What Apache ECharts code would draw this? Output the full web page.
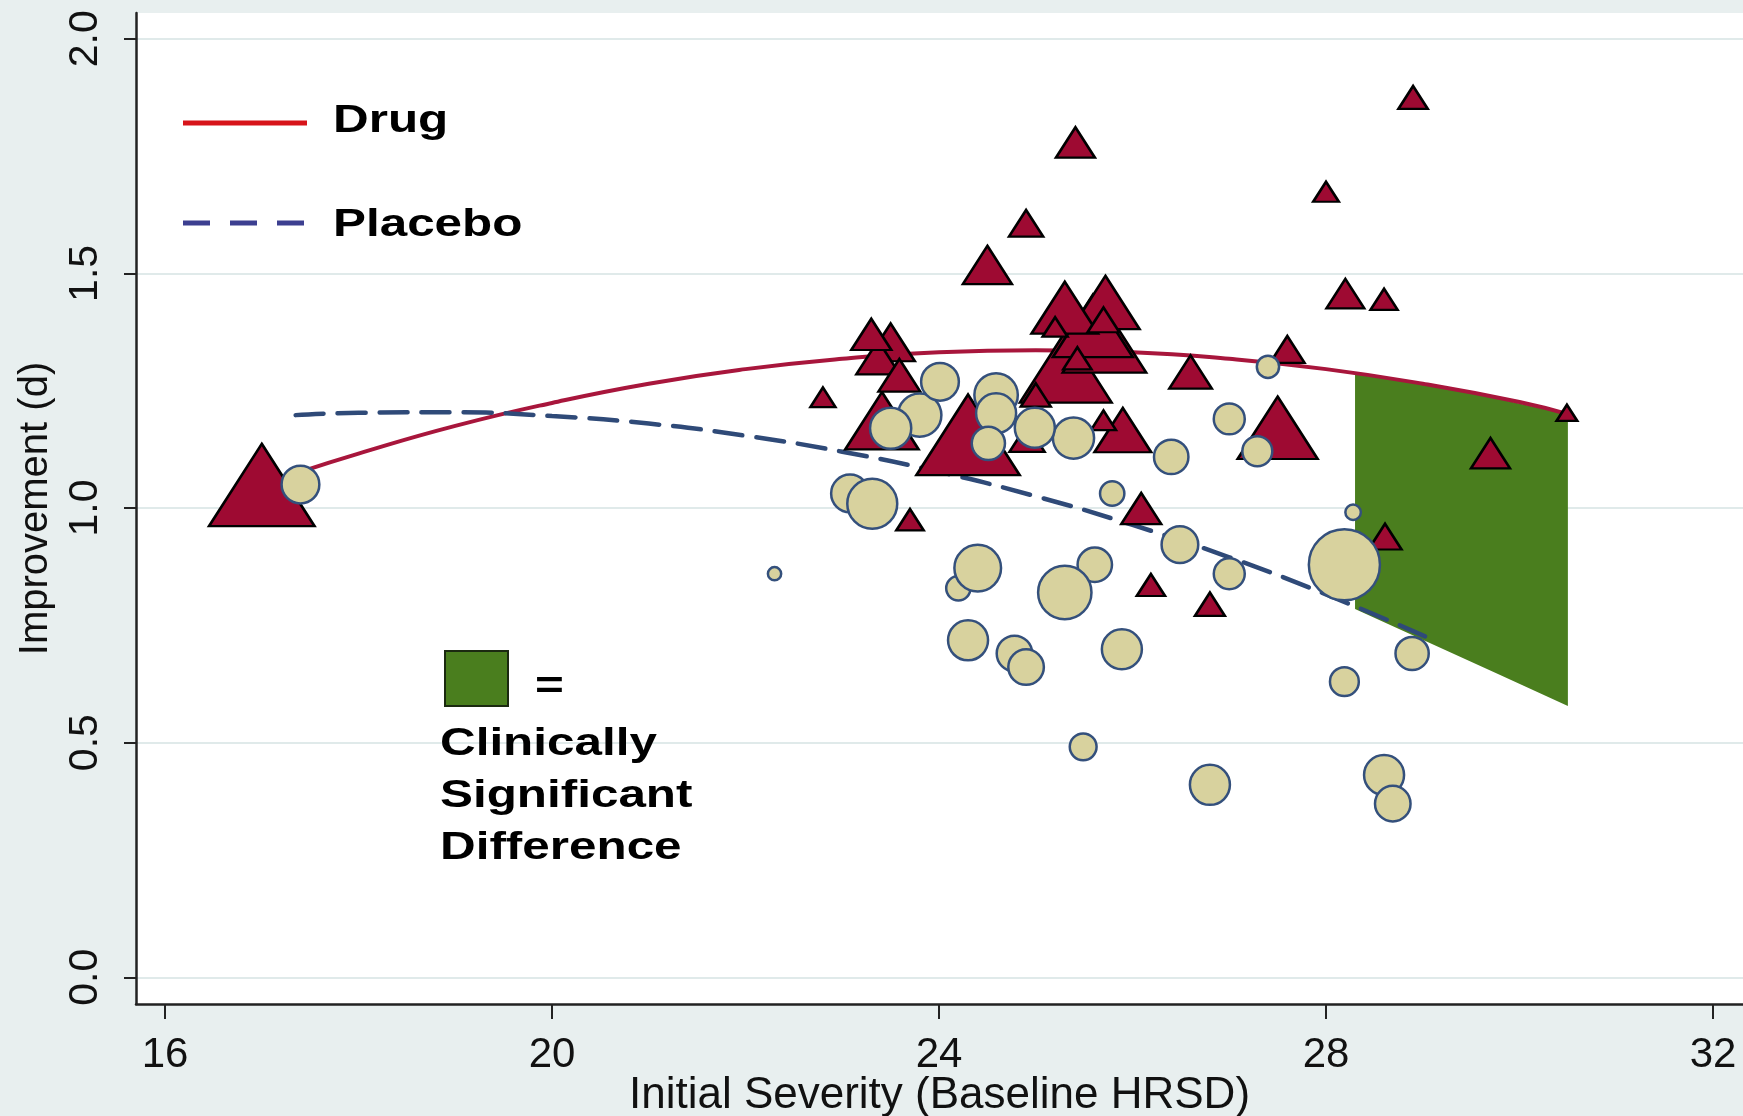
<!DOCTYPE html>
<html>
<head>
<meta charset="utf-8">
<script src="https://cdn.jsdelivr.net/npm/echarts@6/dist/echarts.min.js"></script>
<style>
html,body{margin:0;padding:0;background:#e8efef;}
#chart{width:1743px;height:1116px;}
</style>
</head>
<body>
<div id="chart"></div>
<script>
// ---- axis ticks ----
const xTicks = [16, 20, 24, 28, 32];
const yTicks = [0, 0.5, 1.0, 1.5, 2.0];

// ---- Drug trials (triangles): baseline severity, improvement, relative sample size ----
const drugX = [17.00, 24.30, 25.31, 25.71, 25.59, 27.50, 23.41, 25.72, 25.30, 25.90,
               24.50, 23.50, 23.37, 26.60, 23.59, 23.30, 26.09, 25.41, 29.70, 28.20,
               24.91, 27.60, 24.90, 28.61, 25.70, 25.00, 26.80, 28.90, 25.43, 26.19,
               23.70, 28.60, 28.00, 22.80, 25.20, 25.70, 30.49];
const drugY = [1.049, 1.156, 1.301, 1.358, 1.388, 1.171, 1.186, 1.438, 1.427, 1.166,
               1.518, 1.353, 1.321, 1.290, 1.283, 1.370, 0.999, 1.779, 1.117, 1.457,
               1.149, 1.338, 1.607, 0.939, 1.401, 1.241, 0.795, 1.875, 1.319, 0.836,
               0.975, 1.445, 1.674, 1.236, 1.386, 1.187, 1.203];
const drugN = [697, 668, 526, 435, 400, 400, 337, 292, 278, 201,
               150, 146, 118, 113, 109, 100, 100, 95, 95, 89,
               77, 74, 73, 68, 63, 56, 56, 54, 50, 50,
               47, 46, 41, 39, 39, 39, 27];

// ---- Placebo trials (circles) ----
const placeboX = [28.19, 25.61, 23.08, 25.30, 23.31, 24.20, 24.40, 23.80, 24.59, 25.39,
                  23.50, 26.80, 28.60, 25.89, 24.30, 24.99, 24.59, 17.40, 24.01, 26.49,
                  28.69, 24.78, 24.90, 26.40, 28.89, 24.51, 27.00, 27.00, 27.29, 28.19,
                  25.49, 25.79, 27.40, 28.28, 22.30];
const placeboY = [0.879, 0.879, 1.031, 0.820, 1.009, 0.829, 0.872, 1.198, 1.241, 1.149,
                  1.170, 0.410, 0.431, 0.699, 0.718, 1.171, 1.202, 1.050, 1.269, 0.922,
                  0.370, 0.690, 0.661, 1.109, 0.690, 1.138, 0.860, 1.190, 1.121, 0.630,
                  0.491, 1.031, 1.301, 0.991, 0.860];
const placeboN = [316, 74, 89, 178, 156, 37, 136, 118, 118, 106,
                  106, 100, 100, 100, 100, 100, 100, 89, 89, 84,
                  79, 79, 79, 74, 69, 69, 60, 60, 56, 52,
                  45, 37, 31, 15, 11];

// ---- fitted curves ----
const drugCurveX = [17.4, 18, 19, 20, 21, 22, 23, 24, 25, 26, 27, 28, 29, 30, 30.5];
const drugCurveY = [1.077, 1.116, 1.175, 1.224, 1.265, 1.296, 1.318, 1.332, 1.336, 1.332, 1.318, 1.296, 1.265, 1.226, 1.200];
const placeboCurveX = [17.35, 18, 19, 20, 21, 22, 23, 24, 25, 26, 27, 28, 29.03];
const placeboCurveY = [1.198, 1.203, 1.204, 1.196, 1.180, 1.154, 1.120, 1.077, 1.025, 0.964, 0.895, 0.816, 0.726];

// ---- clinically significant difference region ----
const greenX = [28.3, 28.8, 29.3, 29.8, 30.5];
const greenTop = [1.285, 1.270, 1.252, 1.232, 1.200];
const greenBottom = [0.785, 0.738, 0.691, 0.644, 0.578];

const FONT = '"Liberation Sans", Arial, Helvetica, sans-serif';
const chart = echarts.init(document.getElementById('chart'), null, {renderer: 'canvas'});

const option = {
  animation: false,
  backgroundColor: '#e8efef',
  grid: {left: 136, top: 13, right: 0, bottom: 112, show: true, backgroundColor: '#ffffff', borderWidth: 0,
         outerBoundsMode: 'none', containLabel: false},
  xAxis: {
    type: 'value', min: 15.70, max: 32.31,
    axisLine: {show: true, onZero: false, lineStyle: {color: '#222', width: 2.5}},
    axisTick: {show: true, customValues: xTicks, length: 15, lineStyle: {color: '#222', width: 2}},
    axisLabel: {customValues: xTicks, fontSize: 42, fontFamily: FONT, color: '#111', margin: 30,
                formatter: v => String(Math.round(v))},
    splitLine: {show: false},
    name: 'Initial Severity (Baseline HRSD)', nameLocation: 'middle', nameGap: 70, nameMoveOverlap: false,
    nameTextStyle: {fontSize: 44, fontFamily: FONT, color: '#111'}
  },
  yAxis: {
    type: 'value', min: -0.057, max: 2.055,
    axisLine: {show: true, onZero: false, lineStyle: {color: '#222', width: 2.5}},
    axisTick: {show: true, customValues: yTicks, length: 12, lineStyle: {color: '#222', width: 2}},
    axisLabel: {customValues: yTicks, rotate: 90, fontSize: 41, fontFamily: FONT, color: '#111', margin: 30,
                formatter: v => Number(v).toFixed(1)},
    splitLine: {show: true, lineStyle: {color: '#e0eaea', width: 2}},
    name: 'Improvement (d)', nameLocation: 'middle', nameGap: 80, nameRotate: 90,
    nameTextStyle: {fontSize: 40, fontFamily: FONT, color: '#111'}
  },
  series: [
    {
      type: 'custom', name: 'Clinically Significant Difference',
      data: greenX.map((x, i) => [x, greenTop[i], greenBottom[i]]),
      encode: {x: 0, y: [1, 2]},
      clip: true,
      renderItem: function (params, api) {
        if (params.dataIndex !== 0) return null;
        const pts = [];
        for (let i = 0; i < greenX.length; i++) pts.push(api.coord([greenX[i], greenTop[i]]));
        for (let i = greenX.length - 1; i >= 0; i--) pts.push(api.coord([greenX[i], greenBottom[i]]));
        return {type: 'polygon', shape: {points: pts}, style: {fill: '#4a7e1e', stroke: null}};
      },
      z: 1
    },
    {
      type: 'line', name: 'Drug', smooth: true, symbol: 'none',
      data: drugCurveX.map((x, i) => [x, drugCurveY[i]]),
      lineStyle: {color: '#a8163c', width: 4}, z: 2
    },
    {
      type: 'line', name: 'Placebo', smooth: true, symbol: 'none',
      data: placeboCurveX.map((x, i) => [x, placeboCurveY[i]]),
      lineStyle: {color: '#2f4a78', width: 4.5, type: [28, 14], cap: 'round'}, z: 2
    },
    {
      type: 'scatter', name: 'Drug trials', symbol: 'triangle',
      data: drugX.map((x, i) => [x, drugY[i], drugN[i]]),
      symbolSize: v => { const w = 4 * Math.sqrt(v[2]); return [w, 0.78 * w]; },
      itemStyle: {color: '#9e0a32', borderColor: '#000', borderWidth: 2.5, opacity: 1},
      z: 3
    },
    {
      type: 'scatter', name: 'Placebo trials', symbol: 'circle',
      data: placeboX.map((x, i) => [x, placeboY[i], placeboN[i]]),
      symbolSize: v => 4 * Math.sqrt(v[2]),
      itemStyle: {color: '#d8d29e', borderColor: '#34507c', borderWidth: 2.5, opacity: 1},
      z: 4
    }
  ],
  graphic: [
    {type: 'line', shape: {x1: 183, y1: 123, x2: 307, y2: 123}, style: {stroke: '#d7141a', lineWidth: 5}, z: 10},
    {type: 'text', x: 333, y: 122, scaleX: 1.3, z: 10,
     style: {text: 'Drug', font: 'bold 38px ' + FONT, fill: '#000', align: 'left', verticalAlign: 'middle'}},
    {type: 'line', shape: {x1: 183, y1: 223, x2: 307, y2: 223}, style: {stroke: '#3c3f90', lineWidth: 5, lineDash: [27, 20]}, z: 10},
    {type: 'text', x: 333, y: 226, scaleX: 1.3, z: 10,
     style: {text: 'Placebo', font: 'bold 38px ' + FONT, fill: '#000', align: 'left', verticalAlign: 'middle'}},
    {type: 'rect', shape: {x: 445, y: 651, width: 63, height: 55}, style: {fill: '#4a7e1e', stroke: '#1b2a10', lineWidth: 2}, z: 10},
    {type: 'text', x: 535, y: 688, scaleX: 1.3, z: 10,
     style: {text: '=', font: 'bold 38px ' + FONT, fill: '#000', align: 'left', verticalAlign: 'middle'}},
    {type: 'text', x: 440, y: 745, scaleX: 1.3, z: 10,
     style: {text: 'Clinically', font: 'bold 38px ' + FONT, fill: '#000', align: 'left', verticalAlign: 'middle'}},
    {type: 'text', x: 440, y: 797, scaleX: 1.3, z: 10,
     style: {text: 'Significant', font: 'bold 38px ' + FONT, fill: '#000', align: 'left', verticalAlign: 'middle'}},
    {type: 'text', x: 440, y: 849, scaleX: 1.3, z: 10,
     style: {text: 'Difference', font: 'bold 38px ' + FONT, fill: '#000', align: 'left', verticalAlign: 'middle'}}
  ]
};
chart.setOption(option);
</script>
</body>
</html>
